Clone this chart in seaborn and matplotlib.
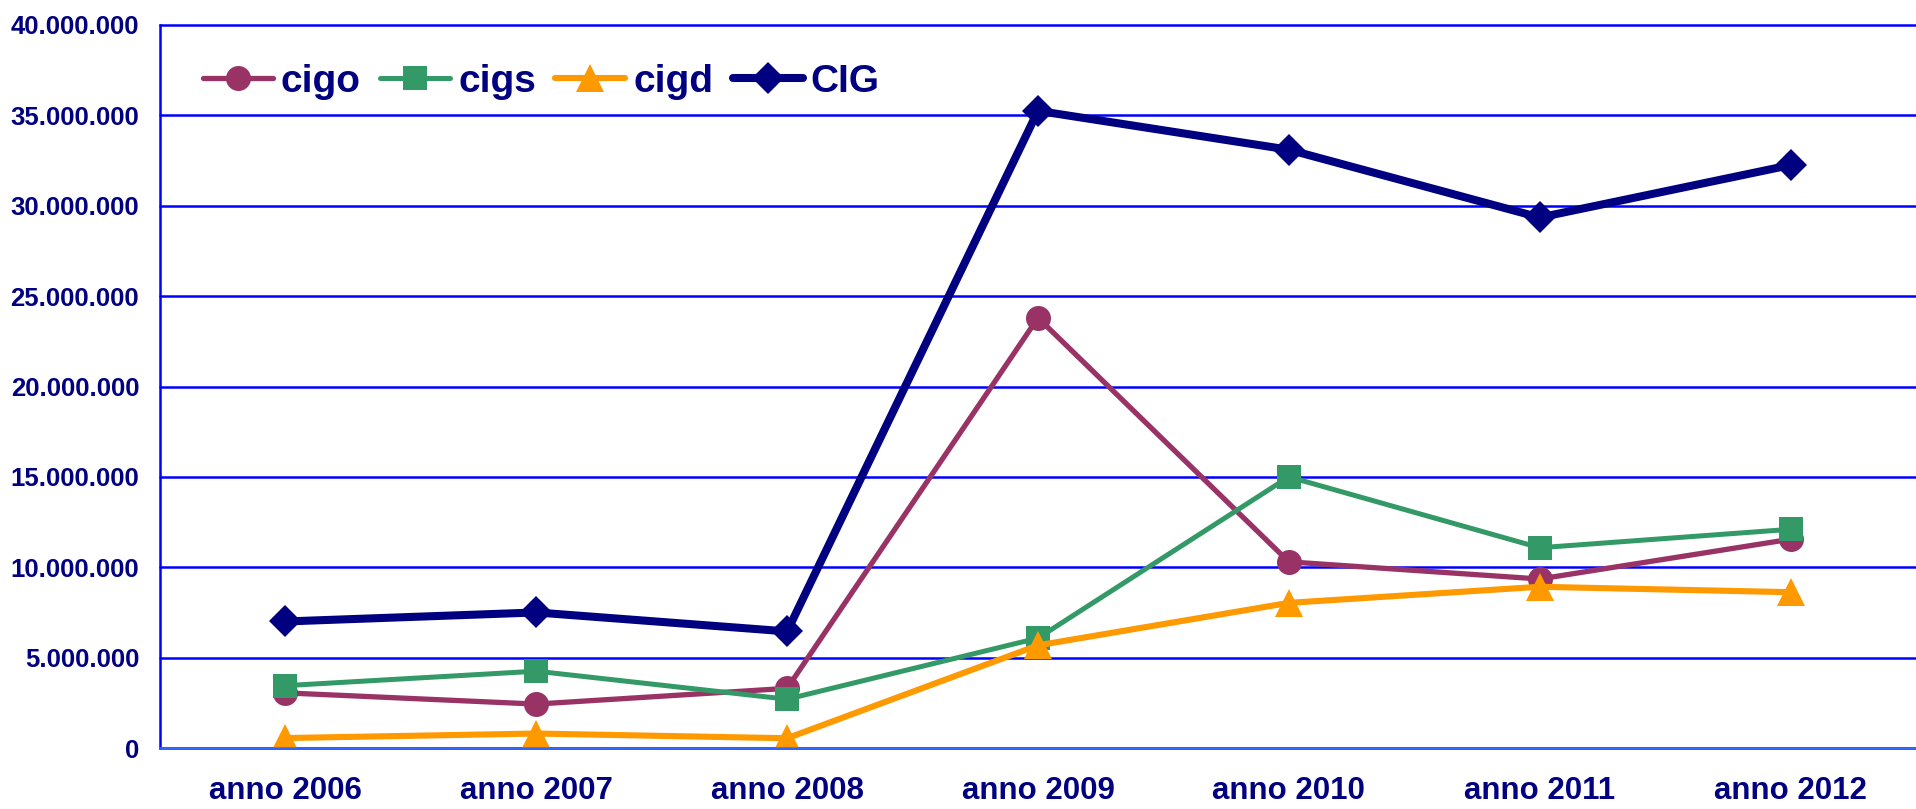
import matplotlib
matplotlib.use("Agg")
import matplotlib.pyplot as plt
from matplotlib.ticker import FuncFormatter, FixedLocator
import seaborn as sns
import numpy as np

# ---- data ----
categories = ["anno 2006", "anno 2007", "anno 2008", "anno 2009", "anno 2010", "anno 2011", "anno 2012"]
cigo = [3.05e6, 2.43e6, 3.3e6, 23.8e6, 10.3e6, 9.35e6, 11.55e6]
cigs = [3.45e6, 4.25e6, 2.7e6, 6.08e6, 15.0e6, 11.08e6, 12.1e6]
cigd = [0.55e6, 0.8e6, 0.54e6, 5.68e6, 8.03e6, 8.92e6, 8.62e6]
cig_total = [7.0e6, 7.5e6, 6.45e6, 35.25e6, 33.1e6, 29.35e6, 32.25e6]
y_ticks = [0, 5e6, 10e6, 15e6, 20e6, 25e6, 30e6, 35e6, 40e6]

series = [
    ("cigo", cigo, "#993366", "o", 18.0, 3.8),
    ("cigs", cigs, "#339966", "s", 17.0, 3.6),
    ("cigd", cigd, "#FF9900", "^", 20.0, 4.4),
    ("CIG", cig_total, "#000080", "D", 16.0, 5.8),
]

sns.set_style("white")
plt.rcParams["font.family"] = ["Liberation Sans", "DejaVu Sans"]
plt.rcParams["font.weight"] = "bold"

fig = plt.figure(figsize=(19.16, 8.09), dpi=100)
ax = fig.add_axes([160 / 1916, 1 - 748 / 809, 1 - 160 / 1916, (748 - 25) / 809])

x = np.arange(len(categories))
for name, vals, col, mk, ms, lw in series:
    sns.lineplot(x=x, y=vals, ax=ax, color=col, marker=mk, markersize=ms,
                 linewidth=lw, markeredgewidth=0, label=name, sort=False)

ax.set_xlim(-0.5, 6.45)
ax.set_ylim(0, 40e6)

ax.yaxis.set_major_locator(FixedLocator(y_ticks))
ax.yaxis.set_major_formatter(FuncFormatter(lambda v, p: f"{int(round(v)):,}".replace(",", ".")))
ax.set_xticks(x)
ax.set_xticklabels(categories)
ax.set_xticks(np.arange(-0.5, 7.0, 1.0), minor=True)

ax.tick_params(axis="x", which="major", length=0, pad=20, labelsize=22.5, labelcolor="#000080")
ax.tick_params(axis="x", which="minor", length=7.2, width=1.6, color="#3366FF", direction="out")
ax.tick_params(axis="y", which="major", length=6, width=1.6, color="#0000FF", direction="out",
               pad=9, labelsize=18.5, labelcolor="#000080")
for lab in ax.get_xticklabels() + ax.get_yticklabels():
    lab.set_fontweight("bold")

ax.grid(axis="y", color="#0000FF", linewidth=1.8)
ax.grid(axis="x", visible=False)
ax.set_axisbelow(True)
for gl in ax.get_ygridlines():
    gl.set_clip_on(False)

for s in ["top", "right"]:
    ax.spines[s].set_visible(False)
ax.spines["left"].set_color("#0000FF")
ax.spines["left"].set_linewidth(1.8)
ax.spines["bottom"].set_color("#3366FF")
ax.spines["bottom"].set_linewidth(1.8)
ax.set_xlabel("")
ax.set_ylabel("")

leg = ax.legend(loc="center left", bbox_to_anchor=(203 / 1916, 1 - 82 / 809),
                bbox_transform=fig.transFigure, ncol=4, frameon=False,
                borderpad=0, borderaxespad=0, handlelength=1.8, handletextpad=0.2,
                columnspacing=0.5, prop={"size": 28, "weight": "bold"},
                labelcolor="#000080")

fig.savefig("out.png", dpi=100, facecolor="white")
